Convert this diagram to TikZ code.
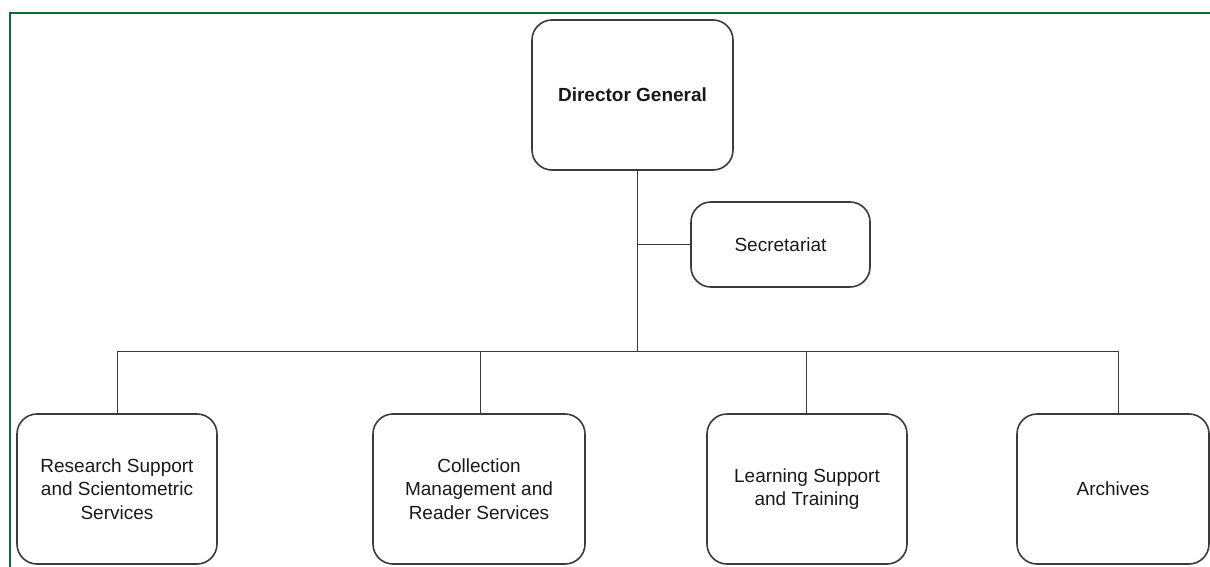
\documentclass[tikz,border=0pt]{standalone}
\usepackage{fontspec}
\setmainfont{Liberation Sans}
\usepackage{tikz}
\definecolor{framegreen}{HTML}{0B6B34}
\definecolor{boxline}{HTML}{3A3A3A}

\begin{document}
\begin{tikzpicture}[x=0.5pt,y=-0.5pt,
  box/.style={draw=boxline,line width=0.8pt,rounded corners=10pt,align=center,text=black!90,font=\fontsize{9.5}{11.75}\selectfont,minimum height=75pt},
  link/.style={draw=boxline,line width=0.5pt}]
\useasboundingbox (0,0) rectangle (1210,567);
\draw[framegreen,line width=1.3pt] (10,567) -- (10,13) -- (1210,13);

\node[box,minimum width=100.5pt] (dg) at (632.5,95) {\bfseries Director General};
\node[box,minimum width=89.5pt,minimum height=42.5pt] (sec) at (780.5,244.5) {Secretariat};
\node[box,minimum width=100pt] (rss) at (117,489) {Research Support\\and Scientometric\\Services};
\node[box,minimum width=106pt] (cmr) at (479,489) {Collection\\Management and\\Reader Services};
\node[box,minimum width=100pt] (lst) at (807,489) {Learning Support\\and Training};
\node[box,minimum width=96pt] (arc) at (1113,489) {Archives};
\coordinate (bus) at (637,351);

\draw[link] (dg.south -| bus) -- (bus);
\draw[link] (sec.west) -- (sec.west -| bus);
\draw[link] (bus -| rss.north) -- ([xshift=2.5pt]bus -| arc.north);
\draw[link] (bus -| rss.north) -- (rss.north) ([xshift=0.5pt]bus -| cmr.north) -- ([xshift=0.5pt]cmr.north);
\draw[link] ([xshift=-0.5pt]bus -| lst.north) -- ([xshift=-0.5pt]lst.north) ([xshift=2.5pt]bus -| arc.north) -- ([xshift=2.5pt]arc.north);
\end{tikzpicture}
\end{document}
